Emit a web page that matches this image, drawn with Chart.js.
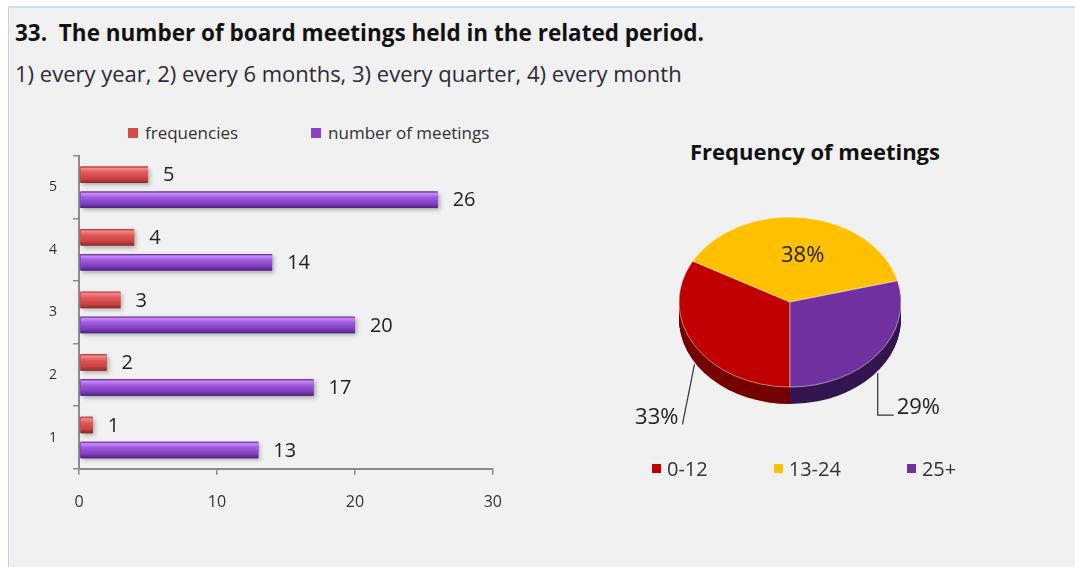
<!DOCTYPE html>
<html>
<head>
<meta charset="UTF-8" />
<title>Board meetings</title>
<script src="https://cdn.jsdelivr.net/npm/chart.js"></script>
<style>
  body { margin: 0; background: #fff; font-family: "Open Sans", sans-serif; }
  #frame { position: absolute; left: 8px; top: 6px; width: 1067px; height: 561px; background: #f1f1f1;
           border-left: 1px solid #c9d1e2; border-top: 2px solid #d3dbea; }
  .abs { position: absolute; white-space: nowrap; }
  #title { left: 15px; top: 17px; font-weight: bold; font-size: 22.5px; color: #111; }
  #subtitle { left: 15px; top: 58px; font-size: 22px; color: #2e2a36; }
  #pieTitle { left: 600px; width: 430px; text-align: center; top: 136px; font-size: 22px; font-weight: bold; color: #111; }
  #barBox { left: 20px; top: 110px; width: 500px; height: 433px; }
  #pieBox { left: 600px; top: 170px; width: 420px; height: 330px; }
  .legend { display: flex; align-items: center; color: #333; }
  .legend span.box { display: inline-block; margin-right: 7px; }
  #barLegend { left: 128px; top: 121px; font-size: 17px; gap: 73px; }
  #barLegend span.box { width: 10px; height: 10px; }
  #pieLegend { left: 652px; top: 455px; font-size: 20px; gap: 66px; }
  #pieLegend span.box { width: 9px; height: 9px; margin-right: 6px; }
</style>
</head>
<body>
<div id="frame"></div>
<div id="title" class="abs">33.&nbsp; The number of board meetings held in the related period.</div>
<div id="subtitle" class="abs">1) every year, 2) every 6 months, 3) every quarter, 4) every month</div>
<div id="barLegend" class="abs legend"></div>
<div id="barBox" class="abs"><canvas id="barChart" width="500" height="433"></canvas></div>
<div id="pieTitle" class="abs">Frequency of meetings</div>
<div id="pieBox" class="abs"><canvas id="pieChart" width="420" height="330"></canvas></div>
<div id="pieLegend" class="abs legend"></div>

<script>
// data
const categories = ['5', '4', '3', '2', '1'];
const frequencies = [5, 4, 3, 2, 1];
const meetings = [26, 14, 20, 17, 13];
const xMin = 0, xMax = 30, xStep = 10;

const pieLabels = ['0-12', '13-24', '25+'];
const piePercents = [33, 38, 29];

// colours
const barColors = ['#d84a4a', '#8a42c8'];
const barStops = [
  [[0, '#a83030'], [0.12, '#f28a8a'], [0.35, '#e45a5a'], [0.75, '#c94141'], [1, '#8c2a2a']],
  [[0, '#5c2590'], [0.12, '#c88cf4'], [0.35, '#a05ce0'], [0.75, '#7f3dbc'], [1, '#4f1f80']]
];
const pieColors = ['#c00000', '#ffc000', '#7030a0'];
const pieSides = ['#760000', '#9a7400', '#33164f'];

Chart.defaults.font.family = '"Open Sans", sans-serif';

// legends (html)
function buildLegend(el, labels, colors) {
  labels.forEach((l, i) => {
    const item = document.createElement('div');
    item.innerHTML = `<span class="box" style="background:${colors[i]}"></span>${l}`;
    item.style.display = 'flex';
    item.style.alignItems = 'center';
    el.appendChild(item);
  });
}
buildLegend(document.getElementById('barLegend'), ['frequencies', 'number of meetings'], barColors);
buildLegend(document.getElementById('pieLegend'), pieLabels, pieColors);

// 棒グラフの立体風グラデーションと値ラベル
const barDecor = {
  id: 'barDecor',
  afterDatasetsDraw(chart) {
    const ctx = chart.ctx;
    chart.data.datasets.forEach((ds, di) => {
      const meta = chart.getDatasetMeta(di);
      meta.data.forEach((bar, i) => {
        const { x, y, base, height } = bar.getProps(['x', 'y', 'base', 'height'], true);
        const top = y - height / 2;
        const g = ctx.createLinearGradient(0, top, 0, top + height);
        barStops[di].forEach(([p, c]) => g.addColorStop(p, c));
        ctx.save();
        ctx.shadowColor = 'rgba(0,0,0,0.28)';
        ctx.shadowBlur = 4;
        ctx.shadowOffsetX = 2;
        ctx.shadowOffsetY = 2;
        ctx.fillStyle = g;
        ctx.fillRect(base + 1, top, x - base - 1, height);
        ctx.restore();
        ctx.save();
        ctx.font = '20px "Open Sans", sans-serif';
        ctx.fillStyle = '#222';
        ctx.textAlign = 'left';
        ctx.textBaseline = 'middle';
        ctx.fillText(ds.data[i], x + 15, y + 1);
        ctx.restore();
      });
    });
  }
};

const axisGray = '#8c8c8c';
new Chart(document.getElementById('barChart'), {
  type: 'bar',
  data: {
    labels: categories,
    datasets: [
      { label: 'frequencies', data: frequencies, backgroundColor: barColors[0] },
      { label: 'number of meetings', data: meetings, backgroundColor: barColors[1] }
    ]
  },
  options: {
    indexAxis: 'y',
    responsive: false,
    animation: false,
    events: [],
    datasets: { bar: { categoryPercentage: 0.8, barPercentage: 0.66 } },
    layout: { padding: { top: 46, left: 13, right: 15, bottom: 13 } },
    plugins: { legend: { display: false }, tooltip: { enabled: false } },
    scales: {
      x: {
        min: xMin, max: xMax,
        ticks: { stepSize: xStep, padding: 18, color: '#333', font: { size: 16 } },
        grid: { drawOnChartArea: false, tickLength: 6, color: axisGray, lineWidth: 1.5 },
        border: { color: axisGray, width: 2 }
      },
      y: {
        ticks: { padding: 16, color: '#333', font: { size: 14 } },
        grid: { drawOnChartArea: false, tickLength: 6, color: axisGray, lineWidth: 1.5 },
        border: { color: axisGray, width: 2 }
      }
    }
  },
  plugins: [barDecor]
});

// 円グラフを楕円＋厚みで描く
const tilt = { ratio: 0.766, depth: 17 };
const tiltPie = {
  id: 'tiltPie',
  beforeDatasetsDraw(chart) {
    const ctx = chart.ctx;
    const arcs = chart.getDatasetMeta(0).data;
    const cx = arcs[0].x, cy = arcs[0].y, k = tilt.ratio;
    ctx.save();
    ctx.translate(cx, cy);
    ctx.scale(1, k);
    ctx.translate(-cx, -cy);
    for (let d = tilt.depth; d >= 1; d--) {
      arcs.forEach((a, i) => {
        ctx.beginPath();
        ctx.moveTo(cx, cy + d / k);
        ctx.arc(cx, cy + d / k, a.outerRadius, a.startAngle, a.endAngle);
        ctx.closePath();
        ctx.fillStyle = pieSides[i];
        ctx.fill();
      });
    }
  },
  afterDatasetsDraw(chart) {
    const ctx = chart.ctx;
    ctx.restore();
    const arcs = chart.getDatasetMeta(0).data;
    const k = tilt.ratio;
    ctx.save();
    ctx.font = '22px "Open Sans", sans-serif';
    ctx.fillStyle = '#222';
    ctx.strokeStyle = '#333';
    ctx.lineWidth = 1.2;
    arcs.forEach((a, i) => {
      const cx = a.x, cy = a.y, R = a.outerRadius;
      const mid = (a.startAngle + a.endAngle) / 2;
      const text = chart.data.datasets[0].data[i] + '%';
      if (i === 1) {
        ctx.textAlign = 'center';
        ctx.textBaseline = 'middle';
        ctx.fillText(text, cx + Math.cos(mid) * R * 0.55 + 5, cy + Math.sin(mid) * R * 0.55 * k);
        return;
      }
      const ex = cx + Math.cos(mid) * R;
      const ey = cy + Math.sin(mid) * R * k + tilt.depth + 2;
      ctx.beginPath();
      ctx.textBaseline = 'bottom';
      if (i === 0) {
        ctx.moveTo(ex, ey);
        ctx.lineTo(ex - 12, ey + 60);
        ctx.stroke();
        ctx.textAlign = 'right';
        ctx.fillText(text, ex - 16, ey + 64);
      } else {
        ctx.moveTo(ex, ey);
        ctx.lineTo(ex, ey + 42);
        ctx.lineTo(ex + 16, ey + 42);
        ctx.stroke();
        ctx.textAlign = 'left';
        ctx.fillText(text, ex + 19, ey + 46);
      }
    });
    ctx.restore();
  }
};

new Chart(document.getElementById('pieChart'), {
  type: 'pie',
  data: {
    labels: pieLabels,
    datasets: [{
      data: piePercents,
      backgroundColor: pieColors,
      borderColor: 'rgba(255,255,255,0.55)',
      borderWidth: 1,
      clip: false
    }]
  },
  options: {
    responsive: false,
    animation: false,
    events: [],
    rotation: 180,
    radius: 111,
    layout: { padding: { top: 0, left: 0, right: 40, bottom: 66 } },
    plugins: { legend: { display: false }, tooltip: { enabled: false } }
  },
  plugins: [tiltPie]
});
</script>
</body>
</html>
